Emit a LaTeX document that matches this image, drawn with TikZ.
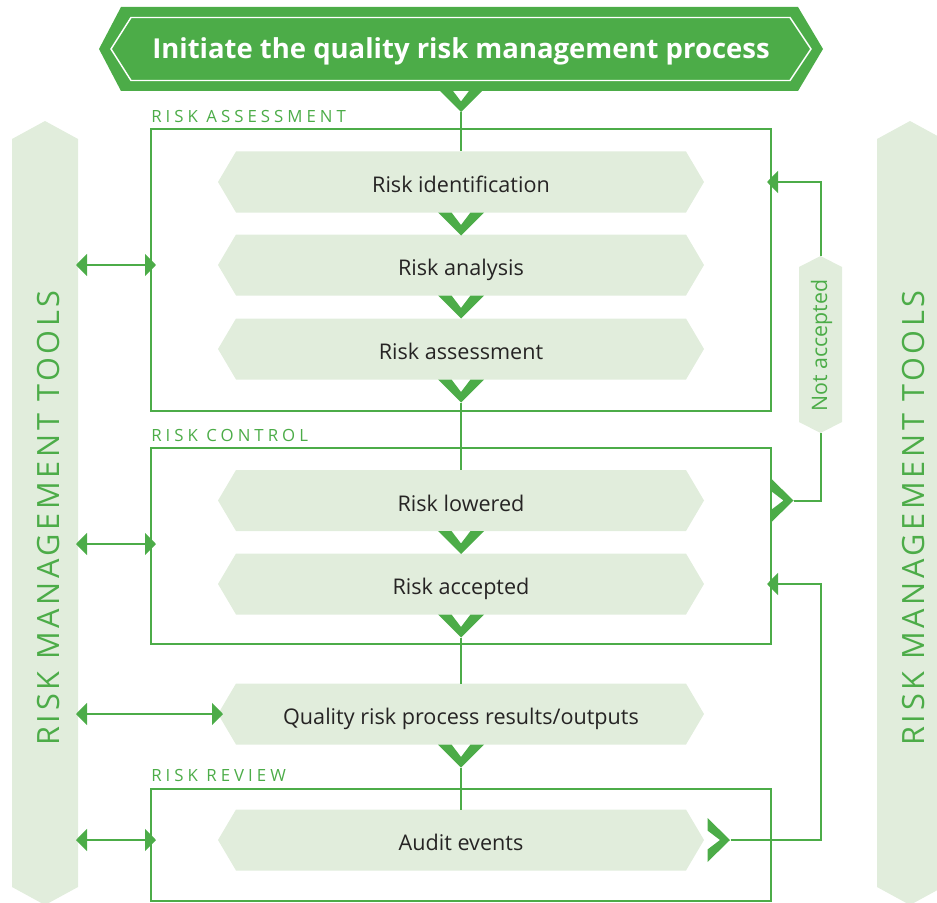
\documentclass[tikz,border=0pt]{standalone}
\usepackage{fontspec}
\setmainfont{Open Sans}
\newfontfamily\spacedfont[LetterSpace=24]{Open Sans}
\newfontfamily\sidefont[LetterSpace=12]{Open Sans}
\usetikzlibrary{arrows.meta,calc}
\definecolor{qgreen}{RGB}{76,172,72}
\definecolor{lightg}{RGB}{225,237,220}
\definecolor{qtext}{RGB}{38,36,36}
\tikzset{
  stepbox/.style={minimum width=364.5pt,minimum height=45.75pt,inner sep=0pt,outer sep=0pt},
  steptext/.style={anchor=base,inner sep=0pt,text=qtext,font=\fontsize{16.2}{18}\selectfont},
  framebox/.style={draw=qgreen,line width=1.5pt,inner sep=0pt,outer sep=0pt},
  boxlabel/.style={anchor=base west,inner sep=0pt,text=qgreen,font=\spacedfont\fontsize{12.6}{14}\selectfont},
  sidelabel/.style={rotate=90,anchor=base,inner sep=0pt,text=qgreen,font=\sidefont\fontsize{23}{26}\selectfont},
  conn/.style={draw=qgreen,line width=1.5pt},
  qtip/.tip={Triangle[length=8.25pt,width=16.5pt]},
  dbl/.style={conn,qtip-qtip},
  fb/.style={conn,-qtip}
}
\newcommand{\qstep}[3]{%
  \fill[lightg] (218,#2) -- (236,#2-30.5) -- (686,#2-30.5) -- (704,#2) -- (686,#2+30.5) -- (236,#2+30.5) -- cycle;
  \node[stepbox] (#1) at (461,#2) {};
  \node[steptext] (#1-text) at (461,#2+10.5) {#3};}
\newcommand{\qchev}[2]{%
  \fill[qgreen] (#1-23,#2) -- (#1,#2+23) -- (#1+23,#2) -- (#1+9.5,#2) -- (#1,#2+12.5) -- (#1-9.5,#2) -- cycle;}
\newcommand{\qchevr}[2]{%
  \fill[qgreen] (#1,#2-22) -- (#1+22.5,#2) -- (#1,#2+22) -- (#1,#2+9.5) -- (#1+12.5,#2) -- (#1,#2-9.5) -- cycle;}
\begin{document}
\begin{tikzpicture}[x=0.75pt,y=-0.75pt]
\useasboundingbox (0,0) rectangle (937,902);
% side bars
\fill[lightg] (12,139) -- (45,121) -- (78,139) -- (78,887) -- (45,905) -- (12,887) -- cycle;
\node[minimum width=49.5pt,minimum height=561pt,inner sep=0pt,outer sep=0pt] (barL) at (45,513) {};
\node[sidelabel] (toolsL) at (59,518) {RISK MANAGEMENT TOOLS};
\fill[lightg] (877,139) -- (910,121) -- (943,139) -- (943,887) -- (910,905) -- (877,887) -- cycle;
\node[minimum width=49.5pt,minimum height=561pt,inner sep=0pt,outer sep=0pt] (barR) at (910,513) {};
\node[sidelabel] (toolsR) at (924,518) {RISK MANAGEMENT TOOLS};
% frames
\node[framebox,minimum width=465pt,minimum height=211.5pt] (boxA) at (461,270) {};
\node[framebox,minimum width=465pt,minimum height=147pt] (boxC) at (461,546) {};
\node[framebox,minimum width=465pt,minimum height=84pt] (boxR) at (461,845) {};
\node[boxlabel] (labA) at (151,123) {RISK ASSESSMENT};
\node[boxlabel] (labC) at (151,441) {RISK CONTROL};
\node[boxlabel] (labR) at (151,781) {RISK REVIEW};
% chevron tip coordinates
\coordinate (c0) at (461,112);
\coordinate (c3) at (461,402.5);
\coordinate (c5) at (461,637.5);
\coordinate (c6) at (461,767.5);
\coordinate (lowtip) at (793.5,500.5);
\coordinate (audtip) at (730.5,840);
% banner
\fill[qgreen] (99,49) -- (121,7) -- (798,7) -- (823,49) -- (798,91) -- (121,91) -- cycle;
\draw[white,line width=1.1pt] (111,49) -- (131,17.5) -- (790,17.5) -- (811,49) -- (790,80.5) -- (131,80.5) -- cycle;
\node[text=white,font=\bfseries\fontsize{20.6}{24}\selectfont,inner sep=0pt,anchor=base] (init) at (461,58.5) {Initiate the quality risk management process};
\qchev{461}{89}
% not accepted
\fill[lightg] (799,267) -- (820.5,256) -- (842,267) -- (842,422) -- (820.5,433) -- (799,422) -- cycle;
\node[minimum width=32.25pt,minimum height=132.75pt,inner sep=0pt,outer sep=0pt] (notacc) at (820.5,344.5) {};
\node[rotate=90,anchor=base,inner sep=0pt,text=qgreen,font=\fontsize{16}{18}\selectfont] (notacctext) at (827,345.5) {Not accepted};
% steps
\qstep{ident}{182}{Risk identification}
\qstep{analysis}{265}{Risk analysis}
\qstep{assess}{349}{Risk assessment}
\qstep{lowered}{500.5}{Risk lowered}
\qstep{accepted}{584}{Risk accepted}
\qstep{quality}{714}{Quality risk process results/outputs}
\qstep{audit}{840}{Audit events}
% stems
\draw[conn] (c0) -- (ident.north);
\draw[conn] (c3) -- (lowered.north);
\draw[conn] (c5) -- (quality.north);
\draw[conn] (c6) -- (audit.north);
% chevrons
\qchev{461}{212.5}
\qchev{461}{295.5}
\qchev{461}{379.5}
\qchev{461}{531}
\qchev{461}{614.5}
\qchev{461}{744.5}
\qchevr{771}{500.5}
\qchevr{707.5}{840}
% left arrows
\coordinate (l2) at (0,544);
\draw[dbl,shorten <=-1.5pt,shorten >=-3.75pt] (barL.east |- analysis) -- (boxA.west |- analysis);
\draw[dbl,shorten <=-1.5pt,shorten >=-3.75pt] (barL.east |- l2) -- (boxC.west |- l2);
\draw[dbl,shorten <=-1.5pt,shorten >=-3.75pt] (barL.east |- quality) -- (quality.west);
\draw[dbl,shorten <=-1.5pt,shorten >=-3.75pt] (barL.east |- audit) -- (boxR.west |- audit);
% feedback
\draw[fb,shorten >=-3pt] (notacc.north) |- (boxA.east |- ident);
\draw[conn] (lowtip) -| (notacc.south);
\draw[fb,shorten >=-3pt] (audtip) -| (notacc.south |- accepted) -- (boxC.east |- accepted);
\end{tikzpicture}
\end{document}
